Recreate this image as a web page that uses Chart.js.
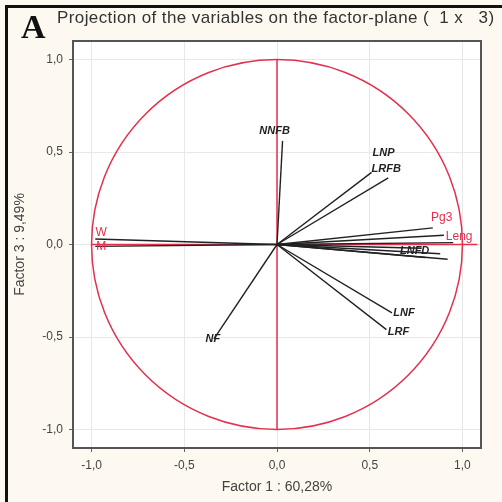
<!DOCTYPE html>
<html>
<head>
<meta charset="utf-8">
<script src="https://cdn.jsdelivr.net/npm/chart.js@4.4.1/dist/chart.umd.min.js"></script>
<style>
    html, body { margin: 0; padding: 0; background: #fdf9f0; }
    #wrap { position: relative; width: 502px; height: 502px; overflow: hidden; }
    #frame { position: absolute; left: 5px; top: 5px; width: 497px; height: 497px; box-sizing: border-box;
             border-left: 3px solid #111; border-top: 3px solid #111; }
    #letter { position: absolute; left: 21px; top: 10px; font: bold 34px "Liberation Serif", serif; color: #111; line-height: 34px; }
    #title { position: absolute; left: 57px; top: 8px; font: 17px "Liberation Sans", Arial, sans-serif; color: #333;
             white-space: pre; letter-spacing: 0.4px; }
    #chart { position: absolute; left: 0; top: 0; }
</style>
</head>
<body>
<div id="wrap">
    <canvas id="chart" width="502" height="502"></canvas>
    <div id="frame"></div>
    <div id="letter">A</div>
    <div id="title">Projection of the variables on the factor-plane (  1 x   3)</div>
</div>
<script>
"use strict";

// Variable loadings on factor 1 (x) and factor 3 (y)
var varNames = ['NNFB', 'LNP', 'LRFB', 'Pg3', '', 'Leng', 'LNFD', '', '', '', 'LNF', 'LRF', 'NF', 'W', 'M'];
var factor1  = [0.03, 0.51, 0.60, 0.84, 0.90, 0.95, 0.78, 0.88, 0.92, 0.80, 0.62, 0.59, -0.34, -0.98, -0.98];
var factor3  = [0.56, 0.39, 0.36, 0.09, 0.05, 0.01, -0.02, -0.05, -0.08, -0.07, -0.37, -0.46, -0.51, 0.03, -0.01];
var redVars  = ['Pg3', 'Leng', 'W', 'M'];
var axisTicks = [-1.0, -0.5, 0.0, 0.5, 1.0];

// label placement relative to the vector tip (pixels)
var labelOffsets = {
    NNFB: [-8, -10], LNP: [12, -19], LRFB: [-2, -9], Pg3: [9, -10], Leng: [6, -6],
    LNFD: [-7, 3], LNF: [12, 0], LRF: [12, 2], NF: [-1, 0], W: [6, -6], M: [6, 0]
};

var lineColor = '#222';
var red = '#e3304e';

var datasets = varNames.map(function (name, i) {
    return {
        label: name,
        data: [{ x: 0, y: 0 }, { x: factor1[i], y: factor3[i] }],
        showLine: true,
        borderColor: lineColor,
        borderWidth: 1.4,
        pointRadius: 0
    };
});

var fmt = function (v) { return v.toFixed(1).replace('.', ','); };

var plotDecor = {
    id: 'plotDecor',
    beforeDraw: function (chart) {
        var a = chart.chartArea, ctx = chart.ctx;
        ctx.save();
        ctx.fillStyle = '#ffffff';
        ctx.fillRect(a.left, a.top, a.width, a.height);
        ctx.restore();
    },
    beforeDatasetsDraw: function (chart) {
        var ctx = chart.ctx, xs = chart.scales.x, ys = chart.scales.y;
        var cx = xs.getPixelForValue(0), cy = ys.getPixelForValue(0);
        var rx = xs.getPixelForValue(1) - cx, ry = cy - ys.getPixelForValue(1);
        ctx.save();
        ctx.strokeStyle = red;
        ctx.lineWidth = 1.5;
        ctx.beginPath();
        ctx.ellipse(cx, cy, rx, ry, 0, 0, Math.PI * 2);
        ctx.stroke();
        ctx.beginPath();
        ctx.moveTo(cx, ys.getPixelForValue(1));
        ctx.lineTo(cx, ys.getPixelForValue(-1));
        ctx.moveTo(xs.getPixelForValue(-1), cy);
        ctx.lineTo(xs.getPixelForValue(1.08), cy);
        ctx.stroke();
        ctx.restore();
    },
    afterDatasetsDraw: function (chart) {
        var ctx = chart.ctx, xs = chart.scales.x, ys = chart.scales.y, a = chart.chartArea;
        ctx.save();
        ctx.textAlign = 'center';
        ctx.textBaseline = 'middle';
        varNames.forEach(function (name, i) {
            if (!name) return;
            var off = labelOffsets[name] || [0, 0];
            var px = xs.getPixelForValue(factor1[i]) + off[0];
            var py = ys.getPixelForValue(factor3[i]) + off[1];
            if (redVars.indexOf(name) >= 0) {
                ctx.fillStyle = red;
                ctx.font = '12px "Liberation Sans", Arial, sans-serif';
            } else {
                ctx.fillStyle = '#222';
                ctx.font = 'bold italic 11px "Liberation Sans", Arial, sans-serif';
            }
            ctx.fillText(name, px, py);
        });
        ctx.strokeStyle = '#555';
        ctx.lineWidth = 2;
        ctx.strokeRect(a.left, a.top, a.width, a.height);
        ctx.restore();
    }
};

var ctx = document.getElementById('chart').getContext('2d');
new Chart(ctx, {
    type: 'scatter',
    data: { datasets: datasets },
    options: {
        responsive: false,
        animation: false,
        devicePixelRatio: 1,
        layout: { padding: { top: 41, right: 21, left: 0, bottom: 0 } },
        scales: {
            x: {
                type: 'linear',
                min: -1.1,
                max: 1.1,
                afterBuildTicks: function (s) { s.ticks = axisTicks.map(function (v) { return { value: v }; }); },
                afterFit: function (s) { s.height = 54; },
                grid: { color: '#e8e8e8', tickColor: '#666', tickLength: 4 },
                border: { display: false },
                ticks: { callback: fmt, color: '#444', font: { size: 12, family: '"Liberation Sans", Arial' }, padding: 6, maxRotation: 0 },
                title: { display: true, text: 'Factor 1 : 60,28%', color: '#444',
                         font: { size: 14, family: '"Liberation Sans", Arial' }, padding: { top: 0, bottom: 6 } }
            },
            y: {
                type: 'linear',
                min: -1.1,
                max: 1.1,
                afterBuildTicks: function (s) { s.ticks = axisTicks.map(function (v) { return { value: v }; }); },
                afterFit: function (s) { s.width = 73; },
                grid: { color: '#e8e8e8', tickColor: '#666', tickLength: 4 },
                border: { display: false },
                ticks: { callback: fmt, color: '#444', font: { size: 12, family: '"Liberation Sans", Arial' }, padding: 6 },
                title: { display: true, text: 'Factor 3 : 9,49%', color: '#444',
                         font: { size: 14, family: '"Liberation Sans", Arial' }, padding: { top: 12, bottom: 0 } }
            }
        },
        plugins: {
            legend: { display: false },
            tooltip: { enabled: false }
        }
    },
    plugins: [plotDecor]
});
</script>
</body>
</html>
